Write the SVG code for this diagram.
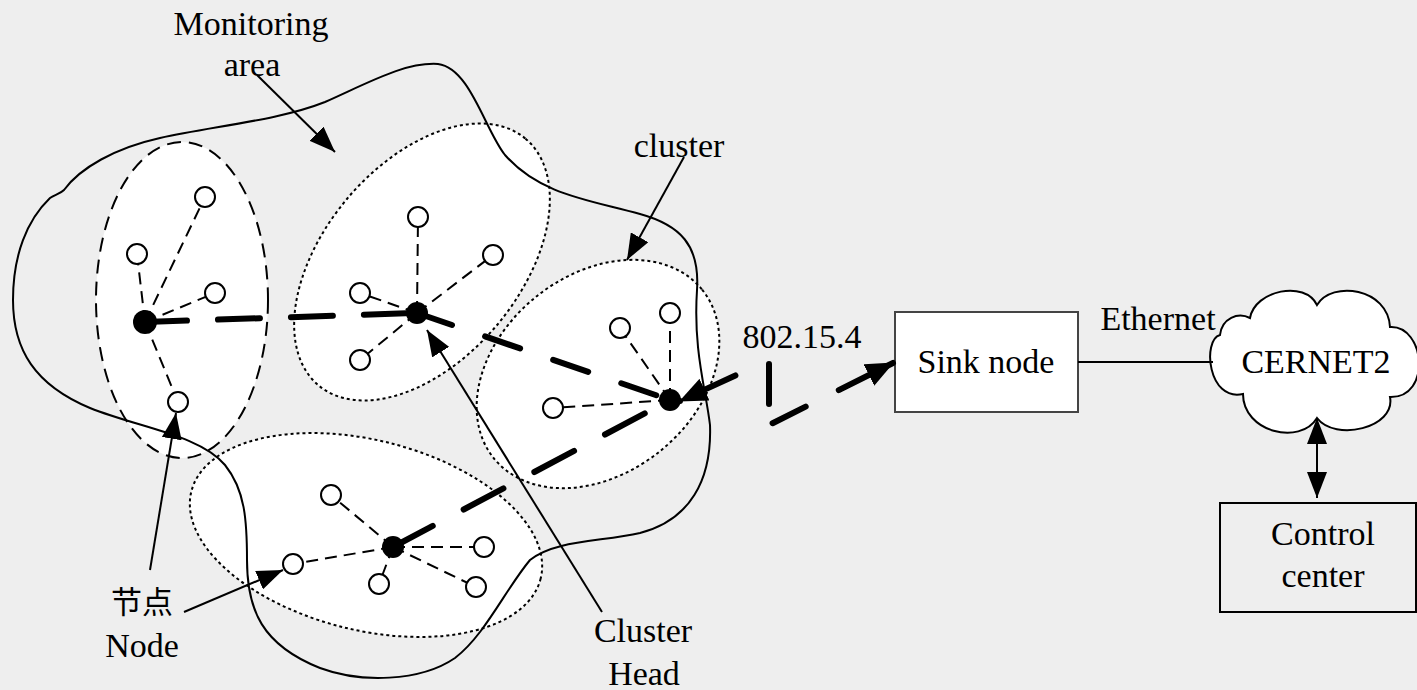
<svg xmlns="http://www.w3.org/2000/svg" width="1417" height="690" viewBox="0 0 1417 690">
<style>
.bg{fill:#eeeeee}
.fillw{fill:#fff;stroke:none}
.dotted{fill:none;stroke:#000;stroke-width:2;stroke-dasharray:3 3}
.dashed{fill:none;stroke:#000;stroke-width:2;stroke-dasharray:14 8}
.area{fill:none;stroke:#000;stroke-width:2}
.spoke{stroke:#000;stroke-width:2;stroke-dasharray:12 7;fill:none}
.node{fill:#fff;stroke:#000;stroke-width:2}
.head{fill:#000}
.thick{fill:none;stroke:#000;stroke-width:6;stroke-linecap:round}
.thin{fill:none;stroke:#000;stroke-width:2}
.box{fill:#fff;stroke:#444;stroke-width:2}
.t{font-family:"Liberation Serif","Times New Roman",serif;font-size:34px;fill:#000;text-anchor:middle}
.cjk{font-family:"Liberation Serif","Noto Sans CJK SC",serif;font-size:31px;fill:#000;text-anchor:middle}
</style>
<defs>
<marker id="ah" viewBox="0 0 26 20" refX="26" refY="10" markerWidth="26" markerHeight="20" markerUnits="userSpaceOnUse" orient="auto-start-reverse"><path d="M0,0 L26,10 L0,20 z" fill="#000"/></marker>
<marker id="ahb" viewBox="0 0 28 24" refX="27" refY="12" markerWidth="28" markerHeight="24" markerUnits="userSpaceOnUse" orient="auto-start-reverse"><path d="M0,0 L28,12 L0,24 z" fill="#000"/></marker>
</defs>
<rect class="bg" x="0" y="0" width="1417" height="690"/>

<g id="cluster-fills">
<ellipse class="fillw" cx="182" cy="300" rx="86" ry="158"/>
<ellipse class="fillw" cx="422" cy="262" rx="161" ry="98" transform="rotate(-50 422 262)"/>
<ellipse class="fillw" cx="598" cy="374" rx="134" ry="99" transform="rotate(-39 598 374)"/>
<ellipse class="fillw" cx="366" cy="535" rx="180" ry="95" transform="rotate(14 366 535)"/>
</g>
<g id="cluster-borders">
<ellipse class="dashed" cx="182" cy="300" rx="86" ry="158"/>
<ellipse class="dotted" cx="422" cy="262" rx="161" ry="98" transform="rotate(-50 422 262)"/>
<ellipse class="dotted" cx="598" cy="374" rx="134" ry="99" transform="rotate(-39 598 374)"/>
<ellipse class="dotted" cx="366" cy="535" rx="180" ry="95" transform="rotate(14 366 535)"/>
</g>

<g id="monitoring-area">
<path class="area" d="M13,300 C13,350 35,385 90,408 C140,428 200,435 225,465 C245,490 247,520 247,560 C247,610 262,645 320,668 C360,683 420,682 455,658 C485,635 505,590 530,560 C555,540 600,542 640,533 C690,520 712,480 710,425 C706,390 693,350 697,290 C700,245 680,225 640,214 C590,200 540,195 505,155 C485,130 470,68 438,64 C405,62 370,82 325,102 C280,120 215,126 160,138 C115,148 80,168 64,190 C60,194 54,195 50,198 C27,220 13,255 13,300 Z"/>
</g>

<g id="cluster-left">
<line class="spoke" x1="145" y1="322" x2="205" y2="197"/>
<line class="spoke" x1="145" y1="322" x2="137" y2="254"/>
<line class="spoke" x1="145" y1="322" x2="215" y2="293"/>
<line class="spoke" x1="145" y1="322" x2="178" y2="402"/>
<circle class="node" cx="205" cy="197" r="10"/>
<circle class="node" cx="137" cy="254" r="10"/>
<circle class="node" cx="215" cy="293" r="10"/>
<circle class="node" cx="178" cy="402" r="10"/>
<circle class="head" cx="145" cy="322" r="12"/>
</g>
<g id="cluster-middle">
<line class="spoke" x1="417" y1="313" x2="418" y2="217"/>
<line class="spoke" x1="417" y1="313" x2="493" y2="255"/>
<line class="spoke" x1="417" y1="313" x2="360" y2="293"/>
<line class="spoke" x1="417" y1="313" x2="360" y2="360"/>
<circle class="node" cx="418" cy="217" r="10"/>
<circle class="node" cx="493" cy="255" r="10"/>
<circle class="node" cx="360" cy="293" r="10"/>
<circle class="node" cx="360" cy="360" r="10"/>
<circle class="head" cx="417" cy="313" r="11"/>
</g>
<g id="cluster-right">
<line class="spoke" x1="670" y1="400" x2="620" y2="328"/>
<line class="spoke" x1="670" y1="400" x2="670" y2="313"/>
<line class="spoke" x1="670" y1="400" x2="553" y2="408"/>
<circle class="node" cx="620" cy="328" r="10"/>
<circle class="node" cx="670" cy="313" r="10"/>
<circle class="node" cx="553" cy="408" r="10"/>
<circle class="head" cx="670" cy="400" r="11"/>
</g>
<g id="cluster-bottom">
<line class="spoke" x1="393" y1="547" x2="331" y2="495"/>
<line class="spoke" x1="393" y1="547" x2="293" y2="564"/>
<line class="spoke" x1="393" y1="547" x2="379" y2="584"/>
<line class="spoke" x1="393" y1="547" x2="484" y2="547"/>
<line class="spoke" x1="393" y1="547" x2="476" y2="587"/>
<circle class="node" cx="331" cy="495" r="10"/>
<circle class="node" cx="293" cy="564" r="10"/>
<circle class="node" cx="379" cy="584" r="10"/>
<circle class="node" cx="484" cy="547" r="10"/>
<circle class="node" cx="476" cy="587" r="10"/>
<circle class="head" cx="393" cy="547" r="11"/>
</g>

<g id="sink-node">
<rect class="box" x="895" y="312" width="183" height="100"/>
<text class="t" x="986" y="373">Sink node</text>
</g>
<g id="cernet2">
<path d="M1220,335 C1222,318 1238,312 1250,318 C1255,290 1305,280 1317,305 C1332,280 1388,288 1390,327 C1425,325 1432,398 1390,397 C1396,428 1335,442 1317,418 C1300,446 1243,432 1243,394 C1208,402 1202,340 1220,335 Z" fill="#fff" stroke="#000" stroke-width="2"/>
<text class="t" x="1316" y="373">CERNET2</text>
</g>
<g id="control-center">
<rect x="1220" y="503" width="196" height="109" fill="none" stroke="#000" stroke-width="2"/>
<text class="t" x="1323" y="545">Control</text>
<text class="t" x="1323" y="587">center</text>
</g>

<g id="connectors">
<path class="thick" d="M145,322 L417,313" stroke-dasharray="42 31"/>
<path class="thick" d="M417,313 L670,400" stroke-dasharray="37 35"/>
<path class="thick" d="M393,547 L670,400" stroke-dasharray="45 35"/>
<path class="thick" d="M680,401 L769,360 L769,425 L893,363" stroke-dasharray="0 26 35 41 40 25 37 37 90" marker-start="url(#ahb)" marker-end="url(#ahb)"/>
<line class="thin" x1="1078" y1="362" x2="1213" y2="362"/>
<line class="thin" x1="1317" y1="418" x2="1317" y2="498" marker-start="url(#ah)" marker-end="url(#ah)"/>
<line class="thin" x1="257" y1="75" x2="335" y2="152" marker-end="url(#ah)"/>
<line class="thin" x1="684" y1="157" x2="627" y2="260" marker-end="url(#ah)"/>
<line class="thin" x1="150" y1="570" x2="176" y2="413" marker-end="url(#ah)"/>
<line class="thin" x1="184" y1="612" x2="283" y2="570" marker-end="url(#ah)"/>
<line class="thin" x1="602" y1="612" x2="427" y2="330" marker-end="url(#ah)"/>
</g>

<g id="labels">
<text class="t" x="251" y="35">Monitoring</text>
<text class="t" x="252" y="76">area</text>
<text class="t" x="679" y="157">cluster</text>
<text class="t" x="802" y="348">802.15.4</text>
<text class="t" x="1158" y="330">Ethernet</text>
<text class="cjk" x="142" y="613">节点</text>
<text class="t" x="142" y="657">Node</text>
<text class="t" x="643" y="642">Cluster</text>
<text class="t" x="644" y="685">Head</text>
</g>
</svg>
